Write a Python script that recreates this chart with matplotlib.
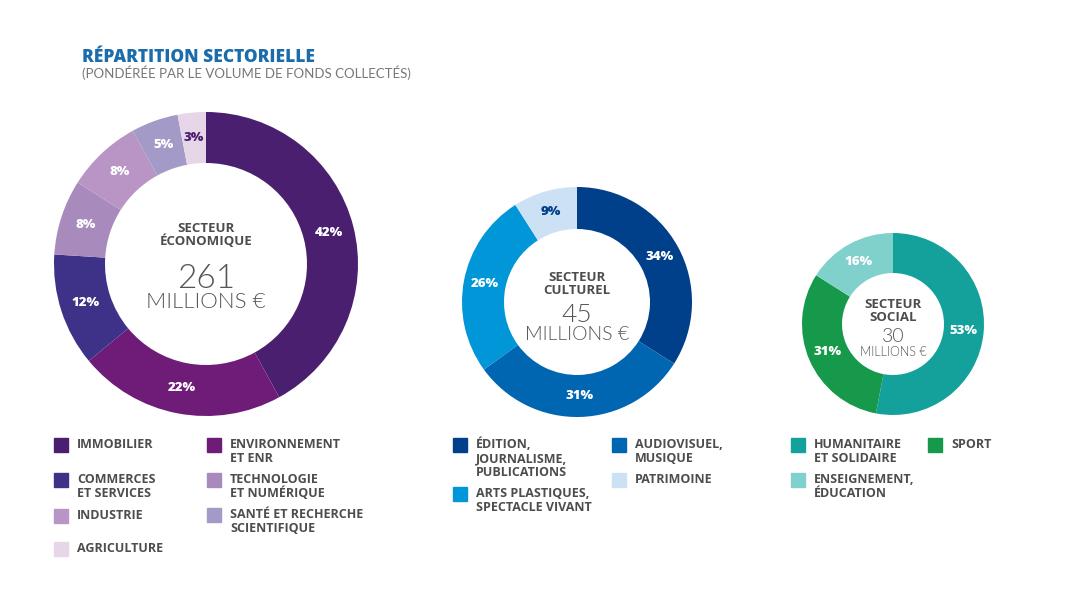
import matplotlib
matplotlib.use('Agg')
import matplotlib.pyplot as plt
from matplotlib.patches import Rectangle
import numpy as np

########  DATA  ########
eco_labels = ['IMMOBILIER', 'ENVIRONNEMENT\nET ENR', 'COMMERCES\nET SERVICES', 'TECHNOLOGIE\nET NUMÉRIQUE',
              'INDUSTRIE', 'SANTÉ ET RECHERCHE\nSCIENTIFIQUE', 'AGRICULTURE']
eco_values = [42, 22, 12, 8, 8, 5, 3]
eco_colors = ['#4a1f70', '#6e1c78', '#3d3287', '#a98abd', '#b895c4', '#a39ac8', '#e6d6e8']

cul_labels = ['ÉDITION,\nJOURNALISME,\nPUBLICATIONS', 'AUDIOVISUEL,\nMUSIQUE', 'ARTS PLASTIQUES,\nSPECTACLE VIVANT', 'PATRIMOINE']
cul_values = [34, 31, 26, 9]
cul_colors = ['#003f8a', '#0066b2', '#0096d7', '#cce2f4']

soc_labels = ['HUMANITAIRE\nET SOLIDAIRE', 'SPORT', 'ENSEIGNEMENT,\nÉDUCATION']
soc_values = [53, 31, 16]
soc_colors = ['#14a19b', '#16994a', '#80d0cc']

totals = ['261', '45', '30']
sectors = ['SECTEUR\nÉCONOMIQUE', 'SECTEUR\nCULTUREL', 'SECTEUR\nSOCIAL']
##########################

plt.rcParams['font.family'] = ['Lato', 'DejaVu Sans']
BOLD = ['Open Sans', 'DejaVu Sans']
GREY = '#4d4d4d'

fig = plt.figure(figsize=(10.79, 5.89), dpi=100)
ax = fig.add_axes([0, 0, 1, 1])
ax.set_xlim(0, 1079)
ax.set_ylim(589, 0)
ax.set_aspect('equal')
ax.axis('off')


def donut(values, colors, center, r_out, r_in, dark_last, total, sector, sizes):
    # y axis is inverted, so counterclock=True draws clockwise on screen
    wedges, _ = ax.pie(values, colors=colors, center=center, radius=r_out, startangle=-90,
                       counterclock=True, wedgeprops=dict(width=r_out - r_in, linewidth=0))
    r_mid = (r_out + r_in) / 2
    for i, (w, v) in enumerate(zip(wedges, values)):
        ang = np.deg2rad((w.theta1 + w.theta2) / 2)
        x = center[0] + r_mid * np.cos(ang)
        y = center[1] + r_mid * np.sin(ang)
        c = dark_last if (i == len(values) - 1 and dark_last) else 'white'
        ax.text(x, y, f'{v}%', color=c, fontsize=sizes[0], fontweight='heavy', family=BOLD,
                ha='center', va='center')
    cx, cy = center
    ax.text(cx, cy + sizes[1], sector, color=GREY, fontsize=sizes[2], fontweight='bold', family=BOLD,
            ha='center', va='center', linespacing=1.0)
    ax.text(cx, cy + sizes[3], total, color='#555555', fontsize=sizes[4], fontweight=300,
            ha='center', va='center')
    ax.text(cx, cy + sizes[5], 'MILLIONS €', color='#555555', fontsize=sizes[6], fontweight=300,
            ha='center', va='center')


donut(eco_values, eco_colors, (206, 264), 152, 101, '#4a1f70', totals[0], sectors[0],
      (9.5, -29, 9.5, 15, 24, 38, 16))
donut(cul_values, cul_colors, (577, 302), 115, 73, '#003f8a', totals[1], sectors[1],
      (9.5, -18, 9.5, 13, 19, 33, 14))
donut(soc_values, soc_colors, (893, 324), 91, 51, None, totals[2], sectors[2],
      (9.5, -13, 9.5, 12, 14, 28, 9))
ax.set_xlim(0, 1079)
ax.set_ylim(589, 0)

# titles
ax.text(82, 57, 'RÉPARTITION SECTORIELLE', color='#1b6cab', fontsize=12.5, fontweight='heavy',
        family=BOLD, va='center')
ax.text(82, 73, '(PONDÉRÉE PAR LE VOLUME DE FONDS COLLECTÉS)', color='#777777', fontsize=9.5, va='center')


def legend_item(x, y, color, label):
    ax.add_patch(Rectangle((x, y - 7), 14, 14, color=color))
    ax.text(x + 23, y - 7, label, color=GREY, fontsize=9, fontweight='bold', family=BOLD,
            va='top', linespacing=1.08)


eco_pos = [(54, 445), (207, 445), (54, 480), (207, 480), (54, 516), (207, 515), (54, 549)]
for (x, y), c, l in zip(eco_pos, eco_colors, eco_labels):
    legend_item(x, y, c, l)

cul_pos = [(453, 445), (612, 445), (453, 494), (612, 480)]
for (x, y), c, l in zip(cul_pos, cul_colors, cul_labels):
    legend_item(x, y, c, l)

soc_pos = [(791, 445), (928, 445), (791, 480)]
for (x, y), c, l in zip(soc_pos, soc_colors, soc_labels):
    legend_item(x, y, c, l)

fig.savefig('out.png', dpi=100, facecolor='white')
